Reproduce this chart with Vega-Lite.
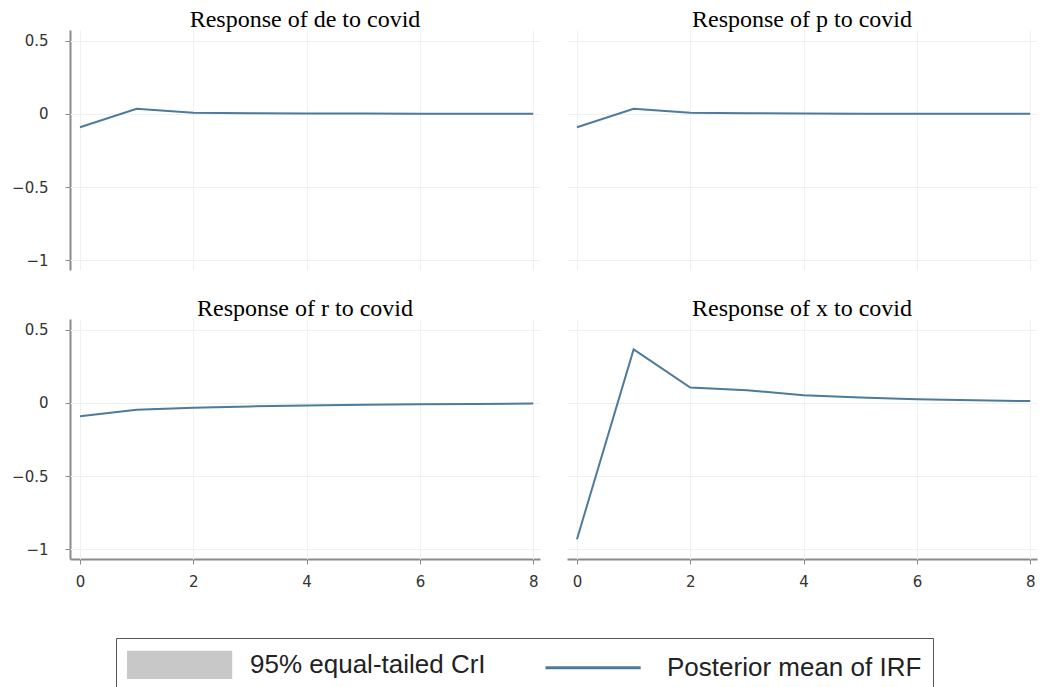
{
  "$schema": "https://vega.github.io/schema/vega-lite/v6.json",
  "background": "white",
  "padding": {"left": 11, "top": 8, "right": 5, "bottom": 0},
  "data": {
    "values": [
      {"panel": "Response of de to covid", "step": 0, "mean": -0.091, "lo": -0.094, "hi": -0.088},
      {"panel": "Response of de to covid", "step": 1, "mean": 0.034, "lo": 0.031, "hi": 0.037},
      {"panel": "Response of de to covid", "step": 2, "mean": 0.008, "lo": 0.005, "hi": 0.011},
      {"panel": "Response of de to covid", "step": 3, "mean": 0.005, "lo": 0.002, "hi": 0.008},
      {"panel": "Response of de to covid", "step": 4, "mean": 0.003, "lo": 0.0, "hi": 0.006},
      {"panel": "Response of de to covid", "step": 5, "mean": 0.002, "lo": -0.001, "hi": 0.005},
      {"panel": "Response of de to covid", "step": 6, "mean": 0.001, "lo": -0.002, "hi": 0.004},
      {"panel": "Response of de to covid", "step": 7, "mean": 0.0, "lo": -0.003, "hi": 0.003},
      {"panel": "Response of de to covid", "step": 8, "mean": 0.0, "lo": -0.003, "hi": 0.003},
      {"panel": "Response of p to covid", "step": 0, "mean": -0.091, "lo": -0.094, "hi": -0.088},
      {"panel": "Response of p to covid", "step": 1, "mean": 0.034, "lo": 0.031, "hi": 0.037},
      {"panel": "Response of p to covid", "step": 2, "mean": 0.007, "lo": 0.004, "hi": 0.01},
      {"panel": "Response of p to covid", "step": 3, "mean": 0.004, "lo": 0.001, "hi": 0.007},
      {"panel": "Response of p to covid", "step": 4, "mean": 0.002, "lo": -0.001, "hi": 0.005},
      {"panel": "Response of p to covid", "step": 5, "mean": 0.001, "lo": -0.002, "hi": 0.004},
      {"panel": "Response of p to covid", "step": 6, "mean": 0.001, "lo": -0.002, "hi": 0.004},
      {"panel": "Response of p to covid", "step": 7, "mean": 0.0, "lo": -0.003, "hi": 0.003},
      {"panel": "Response of p to covid", "step": 8, "mean": 0.0, "lo": -0.003, "hi": 0.003},
      {"panel": "Response of r to covid", "step": 0, "mean": -0.092, "lo": -0.095, "hi": -0.089},
      {"panel": "Response of r to covid", "step": 1, "mean": -0.047, "lo": -0.05, "hi": -0.044},
      {"panel": "Response of r to covid", "step": 2, "mean": -0.033, "lo": -0.036, "hi": -0.03},
      {"panel": "Response of r to covid", "step": 3, "mean": -0.024, "lo": -0.027, "hi": -0.021},
      {"panel": "Response of r to covid", "step": 4, "mean": -0.018, "lo": -0.021, "hi": -0.015},
      {"panel": "Response of r to covid", "step": 5, "mean": -0.013, "lo": -0.016, "hi": -0.01},
      {"panel": "Response of r to covid", "step": 6, "mean": -0.009, "lo": -0.012, "hi": -0.006},
      {"panel": "Response of r to covid", "step": 7, "mean": -0.007, "lo": -0.01, "hi": -0.004},
      {"panel": "Response of r to covid", "step": 8, "mean": -0.005, "lo": -0.008, "hi": -0.002},
      {"panel": "Response of x to covid", "step": 0, "mean": -0.93, "lo": -0.933, "hi": -0.927},
      {"panel": "Response of x to covid", "step": 1, "mean": 0.365, "lo": 0.362, "hi": 0.368},
      {"panel": "Response of x to covid", "step": 2, "mean": 0.105, "lo": 0.102, "hi": 0.108},
      {"panel": "Response of x to covid", "step": 3, "mean": 0.086, "lo": 0.083, "hi": 0.089},
      {"panel": "Response of x to covid", "step": 4, "mean": 0.052, "lo": 0.049, "hi": 0.055},
      {"panel": "Response of x to covid", "step": 5, "mean": 0.036, "lo": 0.033, "hi": 0.039},
      {"panel": "Response of x to covid", "step": 6, "mean": 0.025, "lo": 0.022, "hi": 0.028},
      {"panel": "Response of x to covid", "step": 7, "mean": 0.018, "lo": 0.015, "hi": 0.021},
      {"panel": "Response of x to covid", "step": 8, "mean": 0.012, "lo": 0.009, "hi": 0.015}
    ]
  },
  "facet": {
    "field": "panel",
    "type": "nominal",
    "title": null,
    "header": {
      "labelFont": "Liberation Serif",
      "labelFontSize": 24,
      "labelColor": "#000",
      "labelPadding": -2
    }
  },
  "columns": 2,
  "spacing": {"row": 27, "column": 27},
  "spec": {
    "width": 470,
    "height": 240,
    "layer": [
      {
        "mark": {"type": "area", "opacity": 1},
        "encoding": {
          "x": {"field": "step", "type": "quantitative", "scale": {"domain": [-0.176, 8.12], "nice": false, "zero": false},
                "axis": {"title": null, "values": [0, 2, 4, 6, 8], "format": "d"}},
          "y": {"field": "lo", "type": "quantitative", "scale": {"domain": [-1.065, 0.572], "nice": false, "zero": false},
                "axis": {"title": null, "values": [-1, -0.5, 0, 0.5], "format": ".1~f"}},
          "y2": {"field": "hi"},
          "color": {
            "datum": "95% equal-tailed CrI",
            "type": "nominal",
            "scale": {"domain": ["95% equal-tailed CrI", "Posterior mean of IRF"], "range": ["#c8c8c8", "#4f7b9b"]},
            "legend": {
              "title": null,
              "orient": "none",
              "legendX": 46,
              "legendY": 608,
              "direction": "horizontal",
              "symbolSize": 784,
              "symbolOffset": 0,
              "labelOffset": 92,
              "labelLimit": 500,
              "columnPadding": 53,
              "labelFont": "Liberation Sans",
              "labelFontSize": 26,
              "labelColor": "#222",
              "padding": 11,
              "strokeColor": "#555",
              "fillColor": "white",
              "encode": {
                "symbols": {
                  "update": {
                    "shape": [{"test": "datum.value === 'Posterior mean of IRF'", "value": "M-1,0H5.8"}, {"value": "M-1,-0.9H6.3V0.9H-1Z"}],
                    "fill": [{"test": "datum.value === 'Posterior mean of IRF'", "value": "transparent"}, {"value": "#c8c8c8"}],
                    "stroke": [{"test": "datum.value === 'Posterior mean of IRF'", "value": "#4f7b9b"}, {"value": "transparent"}],
                    "strokeWidth": {"value": 3},
                    "opacity": {"value": 1}
                  }
                }
              }
            }
          }
        }
      },
      {
        "mark": {"type": "line", "strokeWidth": 2},
        "encoding": {
          "x": {"field": "step", "type": "quantitative"},
          "y": {"field": "mean", "type": "quantitative"},
          "color": {
            "datum": "Posterior mean of IRF",
            "type": "nominal",
            "legend": {
              "title": null,
              "orient": "none",
              "legendX": 46,
              "legendY": 608,
              "direction": "horizontal",
              "symbolSize": 784,
              "symbolOffset": 0,
              "labelOffset": 92,
              "labelLimit": 500,
              "columnPadding": 53,
              "labelFont": "Liberation Sans",
              "labelFontSize": 26,
              "labelColor": "#222",
              "padding": 11,
              "strokeColor": "#555",
              "fillColor": "white",
              "encode": {
                "symbols": {
                  "update": {
                    "shape": [{"test": "datum.value === 'Posterior mean of IRF'", "value": "M-1,0H5.8"}, {"value": "M-1,-0.9H6.3V0.9H-1Z"}],
                    "fill": [{"test": "datum.value === 'Posterior mean of IRF'", "value": "transparent"}, {"value": "#c8c8c8"}],
                    "stroke": [{"test": "datum.value === 'Posterior mean of IRF'", "value": "#4f7b9b"}, {"value": "transparent"}],
                    "strokeWidth": {"value": 3},
                    "opacity": {"value": 1}
                  }
                }
              }
            }
          }
        }
      }
    ]
  },
  "config": {
    "view": {"stroke": null},
    "axis": {
      "labelFont": "DejaVu Sans",
      "labelFontSize": 15,
      "labelColor": "#333",
      "tickColor": "#8a8a8a",
      "tickSize": 5,
      "domainColor": "#8a8a8a",
      "domainWidth": 2,
      "gridColor": "#eef0f2",
      "gridWidth": 1
    },
    "axisY": {"labelPadding": 17},
    "axisX": {"labelPadding": 10}
  }
}
